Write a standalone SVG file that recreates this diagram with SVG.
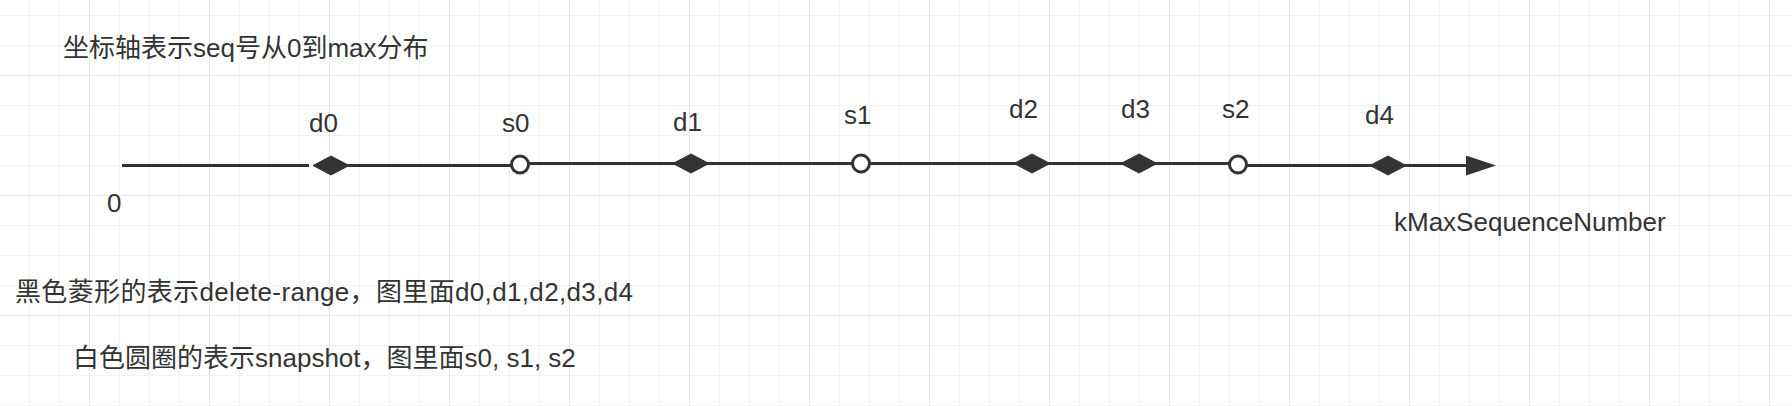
<svg xmlns="http://www.w3.org/2000/svg" width="1792" height="406" viewBox="0 0 1792 406">
  <style>
    text { font-family: "Liberation Sans", "Noto Sans CJK SC", sans-serif; font-size: 26px; fill: #333333; }
    .axis { stroke: #333333; stroke-width: 3; fill: none; }
    .diamond { fill: #333333; stroke: #333333; stroke-width: 1; }
    .circle { fill: #ffffff; stroke: #333333; stroke-width: 3; }
  </style>
  <defs>
    <pattern id="minorGrid" x="29" y="15" width="30" height="30" patternUnits="userSpaceOnUse">
      <path d="M0 0.5H30M0.5 0V30" stroke="#f2f2f2" stroke-width="1" fill="none"/>
    </pattern>
    <pattern id="majorGrid" x="89" y="75" width="120" height="120" patternUnits="userSpaceOnUse">
      <path d="M0 0.5H120M0.5 0V120" stroke="#e6e6e6" stroke-width="1" fill="none"/>
    </pattern>
    <marker id="arrow" markerUnits="userSpaceOnUse" markerWidth="30" markerHeight="20" refX="4" refY="10" orient="auto">
      <path d="M0 0L30 10L0 20Z" fill="#333333"/>
    </marker>
  </defs>

  <rect x="0" y="0" width="1792" height="406" fill="#ffffff"/>
  <rect x="0" y="0" width="1792" height="406" fill="url(#minorGrid)"/>
  <rect x="0" y="0" width="1792" height="406" fill="url(#majorGrid)"/>

  <g id="connectors">
    <line class="axis" x1="122" y1="165.5" x2="309" y2="165.5"/>
    <line class="axis" x1="331" y1="165.5" x2="520" y2="165.5"/>
    <line class="axis" x1="520" y1="163.5" x2="1238" y2="163.5"/>
    <line class="axis" x1="1238" y1="165.5" x2="1470" y2="165.5" marker-end="url(#arrow)"/>
  </g>

  <g id="title">
    <text x="63" y="56.5">坐标轴表示seq号从0到max分布</text>
  </g>

  <g id="origin">
    <text x="107" y="211.5">0</text>
  </g>

  <g id="d0">
    <polygon class="diamond" points="313,165.5 331,156 349,165.5 331,175"/>
    <text x="309" y="131.5">d0</text>
  </g>
  <g id="s0">
    <circle class="circle" cx="520" cy="164.5" r="8.5"/>
    <text x="502" y="131.5">s0</text>
  </g>
  <g id="d1">
    <polygon class="diamond" points="673,163.5 691,154 709,163.5 691,173"/>
    <text x="673" y="131">d1</text>
  </g>
  <g id="s1">
    <circle class="circle" cx="861" cy="163.5" r="8.5"/>
    <text x="844" y="123.5">s1</text>
  </g>
  <g id="d2">
    <polygon class="diamond" points="1014,163.5 1032,154 1050,163.5 1032,173"/>
    <text x="1009" y="117.5">d2</text>
  </g>
  <g id="d3">
    <polygon class="diamond" points="1121,163.5 1139,154 1157,163.5 1139,173"/>
    <text x="1121" y="117.5">d3</text>
  </g>
  <g id="s2">
    <circle class="circle" cx="1238" cy="164.5" r="8.5"/>
    <text x="1222" y="117.5">s2</text>
  </g>
  <g id="d4">
    <polygon class="diamond" points="1370,165.5 1388,156 1406,165.5 1388,175"/>
    <text x="1365" y="123.5">d4</text>
  </g>

  <g id="max-label">
    <text x="1394" y="230.5">kMaxSequenceNumber</text>
  </g>

  <g id="legend-diamond">
    <text x="15" y="300.5" textLength="618" lengthAdjust="spacing">黑色菱形的表示delete-range，图里面d0,d1,d2,d3,d4</text>
  </g>
  <g id="legend-circle">
    <text x="73" y="366.5">白色圆圈的表示snapshot，图里面s0, s1, s2</text>
  </g>
</svg>
